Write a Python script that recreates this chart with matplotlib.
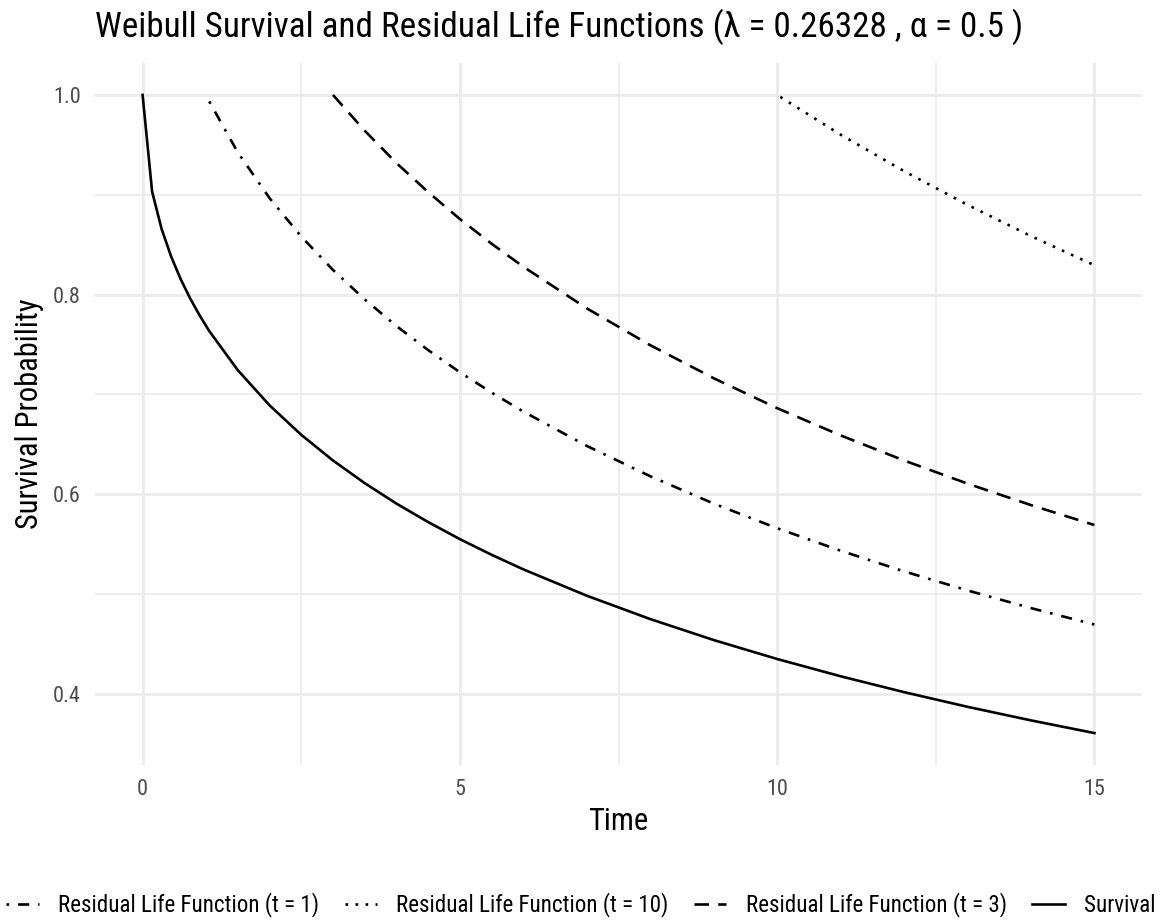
import matplotlib
matplotlib.use("Agg")
import matplotlib.pyplot as plt
from matplotlib import font_manager
from matplotlib.lines import Line2D

# pick a condensed face if the box has one
avail = {f.name for f in font_manager.fontManager.ttflist}
family = "Roboto"
for fam in ["Roboto Condensed", "Roboto"]:
    if fam in avail:
        family = fam
        break
plt.rcParams["font.family"] = [family, "DejaVu Sans"]

# values
time_surv = [0, 0.15, 0.3, 0.45, 0.6, 0.75, 0.9, 1.05, 1.5, 2, 2.5, 3, 3.5, 4,
             4.5, 5, 5.5, 6, 7, 8, 9, 10, 11, 12, 13, 14, 15]
surv = [1.0, 0.9031, 0.8657, 0.8381, 0.8155, 0.7961, 0.7790, 0.7635, 0.7243,
        0.6891, 0.6595, 0.6338, 0.6111, 0.5906, 0.5721, 0.5550, 0.5393, 0.5247,
        0.4983, 0.4749, 0.4539, 0.4349, 0.4176, 0.4017, 0.3870, 0.3734, 0.3607]

time_r1 = [1.05, 1.5, 2, 2.5, 3, 3.5, 4, 4.5, 5, 5.5, 6, 7, 8, 9, 10, 11, 12,
           13, 14, 15]
res_r1 = [0.9935, 0.9425, 0.8967, 0.8582, 0.8247, 0.7952, 0.7685, 0.7444,
          0.7222, 0.7018, 0.6828, 0.6484, 0.6180, 0.5906, 0.5659, 0.5434,
          0.5227, 0.5036, 0.4859, 0.4694]

time_r3 = [3, 3.5, 4, 4.5, 5, 5.5, 6, 7, 8, 9, 10, 11, 12, 13, 14, 15]
res_r3 = [1.0, 0.9642, 0.9318, 0.9027, 0.8757, 0.8509, 0.8279, 0.7862, 0.7493,
          0.7162, 0.6862, 0.6589, 0.6338, 0.6106, 0.5891, 0.5691]

time_r10 = [10.05, 11, 12, 13, 14, 15]
res_r10 = [0.998, 0.9602, 0.9237, 0.8899, 0.8586, 0.8294]

labels = ["Residual Life Function (t = 1)", "Residual Life Function (t = 10)",
          "Residual Life Function (t = 3)", "Survival"]
x_ticks = [0, 5, 10, 15]
y_ticks = [0.4, 0.6, 0.8, 1.0]

W, H = 1162, 922
fig = plt.figure(figsize=(W / 100, H / 100), dpi=100)
ax = fig.add_axes([95 / W, 1 - 765 / H, (1142 - 95) / W, (765 - 63) / H])

lw = 1.9
styles = {
    labels[0]: (0, (1, 3.4, 4.2, 3.4)),
    labels[1]: (0, (1, 2.8)),
    labels[2]: (0, (5.5, 3.5)),
    labels[3]: "solid",
}
ax.plot(time_r1, res_r1, color="black", lw=lw, ls=styles[labels[0]])
ax.plot(time_r10, res_r10, color="black", lw=lw, ls=styles[labels[1]])
ax.plot(time_r3, res_r3, color="black", lw=lw, ls=styles[labels[2]])
ax.plot(time_surv, surv, color="black", lw=lw, ls=styles[labels[3]])

ax.set_xlim(-0.75, 15.75)
ax.set_ylim(0.3287, 1.032)
ax.set_xticks(x_ticks)
ax.set_xticklabels([str(v) for v in x_ticks])
ax.set_yticks(y_ticks)
ax.set_yticklabels([f"{v:.1f}" for v in y_ticks])
ax.set_xticks([2.5, 7.5, 12.5], minor=True)
ax.set_yticks([0.5, 0.7, 0.9], minor=True)
ax.grid(which="major", color="#EBEBEB", lw=2.0)
ax.grid(which="minor", color="#EBEBEB", lw=1.2)
ax.set_axisbelow(True)
for s in ax.spines.values():
    s.set_visible(False)
ax.tick_params(which="both", length=0)
ax.tick_params(axis="both", labelsize=16, labelcolor="#4D4D4D", pad=10)

ax.set_xlabel("Time", fontsize=22, labelpad=5)
ax.set_ylabel("Survival Probability", fontsize=22, labelpad=7)

fig.text(95 / W, 1 - 37 / H,
         "Weibull Survival and Residual Life Functions (\u03bb = 0.26328 , \u03b1 = 0.5 )",
         fontsize=25.3, ha="left", va="baseline")

handles = [Line2D([], [], color="black", lw=lw, ls=styles[l]) for l in labels]
fig.legend(handles, labels, loc="center", bbox_to_anchor=(0.5, 1 - 905 / H),
           ncol=4, frameon=False, fontsize=16.6, handlelength=1.4,
           handletextpad=0.85, columnspacing=1.1)

fig.savefig("out.png", dpi=100)
